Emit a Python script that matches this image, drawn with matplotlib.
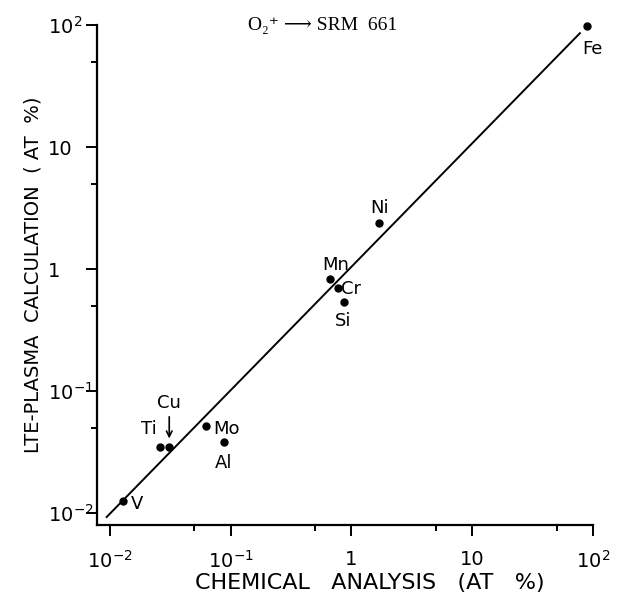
import numpy as np
import matplotlib
matplotlib.use('Agg')
import matplotlib.pyplot as plt
from matplotlib.ticker import LogLocator, FixedLocator, FixedFormatter, NullFormatter

plt.rcParams['font.family'] = ['DejaVu Sans']

# values (atomic %)
elements = ['Fe', 'Ni', 'Mn', 'Cr', 'Si', 'Ti', 'Cu', 'Mo', 'Al', 'V']
chem = [89, 1.7, 0.66, 0.77, 0.86, 0.026, 0.031, 0.063, 0.088, 0.0128]
lte = [98, 2.4, 0.83, 0.70, 0.54, 0.035, 0.035, 0.052, 0.038, 0.0126]

# fitted line end points
line_x = [0.0094, 78]
line_y = [0.0093, 86]

tick_vals = [1e-2, 1e-1, 1, 10, 1e2]
tick_labels = ['$10^{-2}$', '$10^{-1}$', '1', '10', '$10^{2}$']

# label offsets in pixels and alignment
lab_pos = {
    'Fe': (6, -23, 'center', 'center'),
    'Ni': (0, 15, 'center', 'center'),
    'Mn': (6, 14, 'center', 'center'),
    'Cr': (3, -1, 'left', 'center'),
    'Si': (0, -19, 'center', 'center'),
    'Ti': (-3, 18, 'right', 'center'),
    'Cu': (0, 44, 'center', 'center'),
    'Mo': (7, -3, 'left', 'center'),
    'Al': (0, -21, 'center', 'center'),
    'V': (8, -3, 'left', 'center'),
}

fig = plt.figure(figsize=(6.17, 6.00), dpi=100)
ax = fig.add_axes([0.157, 0.125, 0.804, 0.833])
ax.set_xscale('log')
ax.set_yscale('log')
ax.set_xlim(0.0078, 100)
ax.set_ylim(0.008, 100)

ax.plot(line_x, line_y, color='black', lw=1.4)
ax.plot(chem, lte, 'o', color='black', ms=5, clip_on=False)

for el, x, y in zip(elements, chem, lte):
    dx, dy, ha, va = lab_pos[el]
    ax.annotate(el, (x, y), xytext=(dx, dy), textcoords='offset pixels',
                ha=ha, va=va, fontsize=13)

# arrow pointing to Cu
i = elements.index('Cu')
ax.annotate('', xy=(chem[i], lte[i]), xytext=(0, 30), textcoords='offset pixels',
            arrowprops=dict(arrowstyle='->', color='black', lw=1.2,
                            shrinkA=0, shrinkB=6))

for s in ['top', 'right']:
    ax.spines[s].set_visible(False)
for s in ['left', 'bottom']:
    ax.spines[s].set_linewidth(1.6)

for axis in (ax.xaxis, ax.yaxis):
    axis.set_major_locator(FixedLocator(tick_vals))
    axis.set_major_formatter(FixedFormatter(tick_labels))
    axis.set_minor_locator(LogLocator(base=10, subs=(5,)))
    axis.set_minor_formatter(NullFormatter())
ax.tick_params(which='major', length=8, width=1.4, labelsize=14, direction='out')
ax.tick_params(which='minor', length=4.5, width=1.4, direction='out')
ax.tick_params(axis='x', which='major', pad=10)
ax.tick_params(axis='y', which='major', pad=27)
for lab in ax.get_yticklabels():
    lab.set_horizontalalignment('left')

ax.set_xlabel('CHEMICAL   ANALYSIS   (AT   %)', fontsize=16, va='center')
ax.xaxis.set_label_coords(0.55, -0.116)
ax.set_ylabel('LTE-PLASMA  CALCULATION  ( AT  %)', fontsize=14, labelpad=4)

fig.text(0.523, 0.958, 'O₂⁺ ⟶ SRM  661', ha='center', va='center', fontsize=14,
         family=['Liberation Serif', 'DejaVu Serif'])

fig.savefig('out.png', dpi=100)
